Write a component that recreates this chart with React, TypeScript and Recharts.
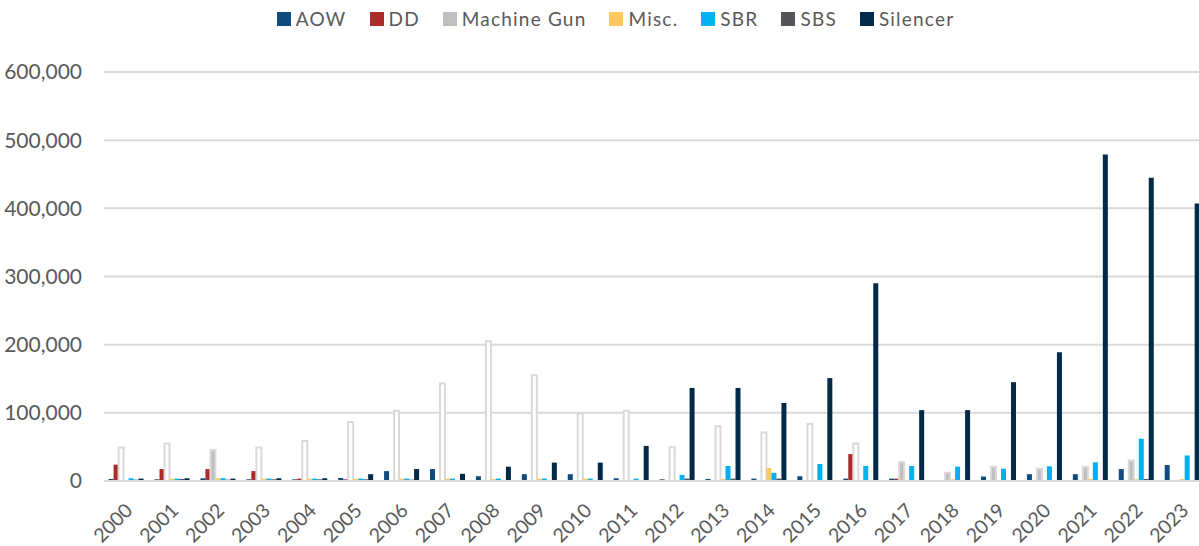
import React from 'react';
import {
  BarChart,
  Bar,
  XAxis,
  YAxis,
  CartesianGrid,
  Legend,
  Cell,
} from 'recharts';

const years = [
  '2000', '2001', '2002', '2003', '2004', '2005', '2006', '2007', '2008', '2009', '2010', '2011',
  '2012', '2013', '2014', '2015', '2016', '2017', '2018', '2019', '2020', '2021', '2022', '2023',
];

const aow = [3000, 2500, 4000, 2500, 2500, 4500, 14500, 17500, 7000, 10000, 10000, 4000, 2500, 3000, 3500, 7000, 3500, 3500, 1500, 6500, 10000, 10000, 17500, 23500];
const dd = [24000, 17500, 17500, 14500, 3500, 2500, 1500, 1500, 1500, 1500, 1500, 0, 0, 0, 1500, 1500, 39500, 3500, 0, 0, 0, 0, 0, 0];
const machineGun = [49000, 55000, 45500, 49000, 58500, 86500, 103000, 143000, 205000, 155000, 99000, 103000, 49500, 80500, 71000, 83500, 55000, 27500, 12000, 21000, 18000, 21000, 30000, 0];
const misc = [1000, 3500, 4000, 3500, 3500, 3500, 3500, 3500, 3000, 3500, 3500, 0, 0, 3000, 19000, 0, 0, 0, 2500, 0, 0, 3000, 2500, 3000];
const sbr = [4000, 3500, 4000, 3500, 3500, 3500, 3500, 3500, 3500, 3500, 3500, 3500, 9000, 22000, 12000, 25000, 22000, 22000, 21000, 18000, 21500, 27500, 62000, 37500];
const sbs = [2000, 3000, 2000, 2500, 2500, 2500, 2000, 1500, 1500, 1500, 1500, 1500, 3500, 3500, 3500, 1500, 1500, 1500, 1500, 1500, 1500, 1500, 3000, 1500];
const silencer = [3500, 4000, 3500, 4000, 4000, 10000, 17500, 10500, 21000, 27000, 27000, 51500, 136500, 136500, 114500, 151000, 290000, 104000, 104000, 145000, 189000, 479000, 445000, 407000];

const yTicks = [0, 100000, 200000, 300000, 400000, 500000, 600000];

const series = [
  { key: 'AOW', color: '#0f4c7d' },
  { key: 'DD', color: '#ad2b2b' },
  { key: 'Machine Gun', color: '#bfbfbf' },
  { key: 'Misc.', color: '#ffc960' },
  { key: 'SBR', color: '#00b0f0' },
  { key: 'SBS', color: '#555559' },
  { key: 'Silencer', color: '#012a48' },
];

const data = years.map((year, i) => ({
  year,
  AOW: aow[i],
  DD: dd[i],
  'Machine Gun': machineGun[i],
  'Misc.': misc[i],
  SBR: sbr[i],
  SBS: sbs[i],
  Silencer: silencer[i],
}));

const TEXT = '#595959';
const FONT = 'Lato, "Open Sans", sans-serif';

// machine gun bars render hollow in the older years of the original
const mgFill = (year: string) => (Number(year) <= 2016 && year !== '2002' ? '#ffffff' : '#bfbfbf');

const YearTick = ({ x, y, payload }: any) => {
  const tx = x + 2;
  const ty = y + 26;
  return (
    <text
      x={tx}
      y={ty}
      transform={`rotate(-45 ${tx} ${ty})`}
      textAnchor="end"
      dy="0.35em"
      fill={TEXT}
      fontSize={19.5}
      fontFamily={FONT}
    >
      {payload.value}
    </text>
  );
};

const renderLegend = () => (
  <div
    style={{
      height: 72,
      display: 'flex',
      justifyContent: 'center',
      alignItems: 'flex-start',
      paddingLeft: 25,
      boxSizing: 'border-box',
    }}
  >
    {series.map((s, i) => (
      <div
        key={s.key}
        style={{
          display: 'flex',
          alignItems: 'center',
          marginTop: 8,
          marginLeft: i === 0 ? 0 : 23,
          height: 22,
        }}
      >
        <span style={{ width: 14, height: 14, background: s.color, marginRight: 5, display: 'inline-block' }} />
        <span
          style={{
            fontFamily: FONT,
            fontSize: 19,
            color: TEXT,
            letterSpacing: 1.2,
            lineHeight: '22px',
          }}
        >
          {s.key}
        </span>
      </div>
    ))}
  </div>
);

export default function App() {
  return (
    <div
      style={{
        position: 'fixed',
        left: 0,
        top: 0,
        width: 1199,
        height: 546,
        overflow: 'hidden',
        background: '#ffffff',
      }}
    >
      <BarChart
        width={1207}
        height={546}
        data={data}
        margin={{ top: 0, right: 1, left: 0, bottom: 0 }}
        barCategoryGap="10%"
        barGap={0}
      >
        <CartesianGrid vertical={false} stroke="#d9d9d9" strokeWidth={2} />
        <XAxis
          dataKey="year"
          interval={0}
          height={65}
          tickLine={false}
          tickSize={0}
          tickMargin={0}
          axisLine={{ stroke: '#d9d9d9', strokeWidth: 2 }}
          tick={<YearTick />}
        />
        <YAxis
          width={104}
          domain={[0, 600000]}
          ticks={yTicks}
          axisLine={false}
          tickLine={false}
          tickSize={0}
          tickMargin={22}
          tick={{ fill: TEXT, fontSize: 21, fontFamily: FONT }}
          tickFormatter={(v: number) => v.toLocaleString('en-US')}
        />
        <Legend verticalAlign="top" align="center" content={renderLegend} />
        {series.map((s) =>
          s.key === 'Machine Gun' ? (
            <Bar key={s.key} dataKey={s.key} fill={s.color} stroke="#d9d9d9" strokeWidth={2} isAnimationActive={false}>
              {data.map((d) => (
                <Cell key={`mg-${d.year}`} fill={mgFill(d.year)} />
              ))}
            </Bar>
          ) : (
            <Bar key={s.key} dataKey={s.key} fill={s.color} isAnimationActive={false} />
          )
        )}
      </BarChart>
    </div>
  );
}
